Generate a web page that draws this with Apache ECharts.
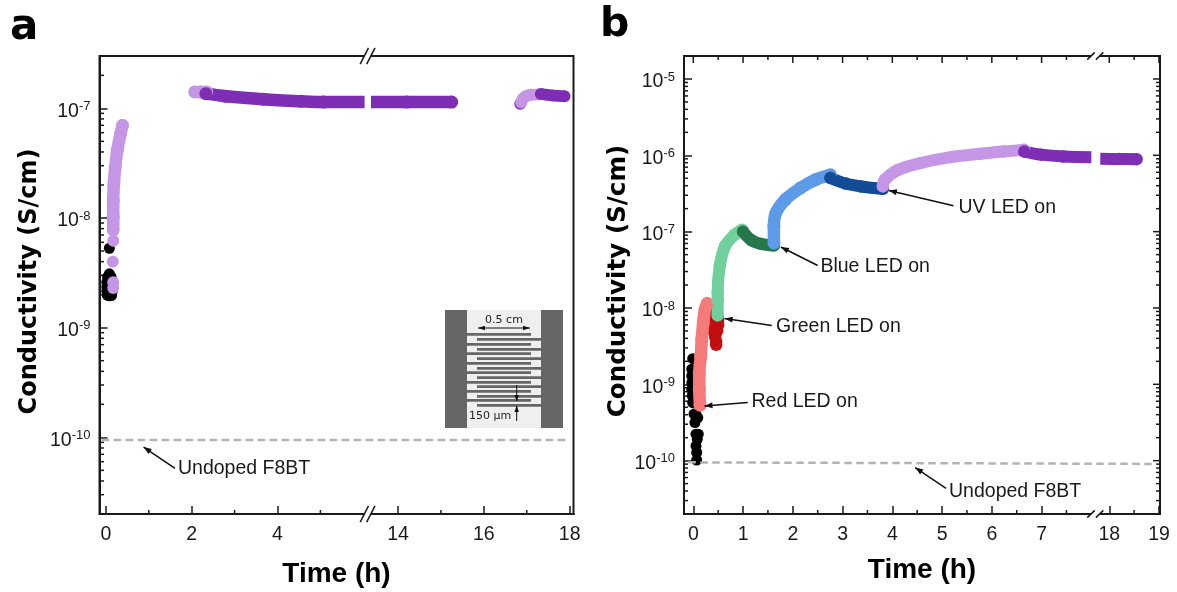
<!DOCTYPE html>
<html><head><meta charset="utf-8">
<style>html,body{margin:0;padding:0;background:#fff}#c{width:1177px;height:592px}</style>
<script src="https://cdn.jsdelivr.net/npm/echarts@6/dist/echarts.min.js"></script>
</head><body><div id="c"></div>
<script>
// ---- tick labels ----
const aXLabels = [0, 2, 4, 14, 16, 18];
const aXMinor = [1, 3, 5, 15, 17];
const bXLabels = [0, 1, 2, 3, 4, 5, 6, 7, 18, 19];
const bXMinor = [0.5, 1.5, 2.5, 3.5, 4.5, 5.5, 6.5, 7.5, 18.5];
const aDecades = [1e-10, 1e-9, 1e-8, 1e-7];
const bDecades = [1e-10, 1e-9, 1e-8, 1e-7, 1e-6, 1e-5];
const minorMult = [2, 3, 4, 5, 6, 7, 8, 9];

// ---- panel a data [time h, conductivity S/cm] ----
const aBlack = [[0.08,5.3e-9],[0.08,3.1e-9],[0.04,2.9e-9],[0.12,2.9e-9],[0.02,2.6e-9],[0.08,2.7e-9],[0.14,2.6e-9],
  [0.02,2.35e-9],[0.08,2.4e-9],[0.14,2.35e-9],[0.02,2.15e-9],[0.08,2.1e-9],[0.15,2.15e-9],[0.03,1.98e-9],[0.08,1.95e-9],[0.13,1.96e-9]];
const aRiseDots = [[0.17,2.3e-9],[0.17,2.6e-9],[0.16,4e-9],[0.17,6.2e-9]];
const aRise = [[0.17,7.8e-9],[0.17,1.03e-8],[0.17,1.45e-8],[0.186,2.05e-8],[0.217,2.91e-8],[0.264,4.13e-8],[0.341,5.87e-8],[0.388,7.0e-8]];
const aLight2 = [[2.07,1.41e-7],[2.2,1.41e-7],[2.35,1.41e-7]];
const aDecay = [[2.33,1.36e-7],[2.79,1.29e-7],[3.67,1.21e-7],[4.54,1.16e-7],[5.07,1.14e-7],[6.03,1.14e-7]];
const aDecayAfter = [[13.37,1.14e-7],[14.2,1.14e-7],[15.25,1.14e-7]];
const aDark3 = [[16.85,1.10e-7]];
const aLight3 = [[16.87,1.13e-7],[16.91,1.22e-7],[16.98,1.29e-7],[17.1,1.33e-7],[17.28,1.34e-7]];
const aDecay3 = [[17.33,1.35e-7],[17.6,1.31e-7],[17.88,1.29e-7]];
const aUndoped = [[-0.1,9.45e-11],[18.0,9.45e-11]];

// ---- panel b data ----
const bBlack = [[0.068,1.02e-10],[0.068,1.28e-10],[0.054,1.56e-10],[0.08,1.9e-10],[0.054,2.22e-10],[0.10,2.22e-10],
  [0.034,3.16e-10],[0.068,3.67e-10],[0.09,3.67e-10],[0.014,4.07e-10],[0.05,4.07e-10],[-0.012,5.75e-10],[-0.02,7.08e-10],
  [-0.032,8.61e-10],[-0.03,1.05e-9],[-0.032,1.29e-9],[-0.032,1.58e-9],[-0.012,2.17e-9]];
const bRed = [[0.135,5.32e-10],[0.12,8.61e-10],[0.12,1.41e-9],[0.15,2.34e-9],[0.17,3.89e-9],[0.20,6.46e-9],[0.235,9.55e-9],[0.28,1.15e-8]];
const bRedOff = [[0.36,9.55e-9],[0.38,7.94e-9],[0.39,6.76e-9],[0.40,5.62e-9],[0.42,4.79e-9],[0.44,4.17e-9],[0.46,3.63e-9],[0.46,3.3e-9],
  [0.48,7.94e-9],[0.5,7.08e-9],[0.5,6.03e-9],[0.48,5.01e-9]];
const bGreen = [[0.49,8e-9],[0.49,1.29e-8],[0.49,1.58e-8],[0.53,3.5e-8],[0.64,6.5e-8],[0.83,9.1e-8],[0.98,1.06e-7]];
const bGreenOff = [[1.0,1e-7],[1.17,7.71e-8],[1.36,6.9e-8],[1.62,6.56e-8]];
const bBlue = [[1.62,7.11e-8],[1.62,1.17e-7],[1.66,1.76e-7],[1.85,2.63e-7],[2.15,3.72e-7],[2.455,4.79e-7],[2.756,5.56e-7]];
const bBlueOff = [[2.756,5.04e-7],[3.06,4.27e-7],[3.37,3.91e-7],[3.81,3.63e-7]];
const bUv = [[3.81,3.91e-7],[3.85,4.79e-7],[4.12,6.46e-7],[4.57,7.94e-7],[5.175,9.46e-7],[5.78,1.05e-6],[6.23,1.12e-6],[6.65,1.18e-6]];
const bUvOff = [[6.65,1.12e-6],[6.99,1.02e-6],[7.44,9.64e-7],[8.0,9.46e-7]];
const bUvOffAfter = [[17.82,9.0e-7],[18.2,8.95e-7],[18.55,8.9e-7]];
const bUndoped = [[-0.1,9.5e-11],[18.95,9.05e-11]];

// ---- annotations: tip, tail, text anchor in data space ----
const aNotes = [{label:'Undoped F8BT',tip:[0.878,8.15e-11],tail:[1.61,5.2e-11],at:[1.68,5.18e-11]}];
const bNotes = [
  {label:'Red LED on',tip:[0.225,5.2e-10],tail:[1.095,5.77e-10],at:[1.17,5.87e-10]},
  {label:'Green LED on',tip:[0.63,7.3e-9],tail:[1.577,5.9e-9],at:[1.664,5.78e-9]},
  {label:'Blue LED on',tip:[1.76,6.3e-8],tail:[2.5,3.6e-8],at:[2.555,3.52e-8]},
  {label:'UV LED on',tip:[3.93,3.47e-7],tail:[5.23,2.19e-7],at:[5.33,2.04e-7]},
  {label:'Undoped F8BT',tip:[4.46,8.13e-11],tail:[5.08,4.34e-11],at:[5.14,3.9e-11]}
];

// ---- colours ----
const C = {black:'#000', lilac:'#c596e6', violet:'#7e2db5', salmon:'#f57a7a', red:'#c20f10',
  mint:'#70d09c', green:'#26774a', sky:'#5d9ae8', navy:'#134c96', gray:'#b3b3b3', ink:'#1a1a1a'};
const SANS = '"Liberation Sans", Arial, sans-serif';
const DEJA = '"DejaVu Sans", sans-serif';

function band(g, data, color, size, flatEnd) {
  return {type:'line', xAxisIndex:g, yAxisIndex:g, data, silent:true, animation:false, clip:false, smooth:0.35,
    showSymbol:true, showAllSymbol:true, symbol:'circle',
    symbolSize:(v,p)=> (flatEnd==='end' && p.dataIndex===data.length-1) || (flatEnd==='start' && p.dataIndex===0) ? 0 : size,
    lineStyle:{color, width:size-0.5}, itemStyle:{color}};
}
function dots(g, data, color, size) {
  return {type:'scatter', xAxisIndex:g, yAxisIndex:g, data, symbolSize:size, silent:true, clip:false,
    itemStyle:{color, opacity:1}};
}
function dashed(g, data) {
  return {type:'line', xAxisIndex:g, yAxisIndex:g, data, symbol:'none', silent:true, clip:false,
    lineStyle:{color:C.gray, width:2.5, type:[7.5,4.5]}};
}
function tickSeries(g, dim, values, side, len, ref) {
  const data = values.map(v => dim==='x' ? [v, ref] : [ref, v]);
  return {type:'custom', xAxisIndex:g, yAxisIndex:g, data, silent:true, clip:false, encode:{x:0,y:1},
    renderItem:(p, api)=>{
      const pt = api.coord([api.value(0), api.value(1)]), r = p.coordSys;
      let s;
      if (dim==='x') {
        const y0 = side==='top' ? r.y : r.y + r.height;
        s = {x1:pt[0], x2:pt[0], y1:y0, y2: side==='top' ? y0+len : y0-len};
      } else {
        const x0 = side==='right' ? r.x + r.width : r.x;
        s = {y1:pt[1], y2:pt[1], x1:x0, x2: side==='right' ? x0-len : x0+len};
      }
      return {type:'line', shape:s, style:{stroke:C.ink, lineWidth:1.5}};
    }};
}
function arrowHead(tip, tail, L, W) {
  const dx = tail[0]-tip[0], dy = tail[1]-tip[1], n = Math.hypot(dx,dy), ux = dx/n, uy = dy/n;
  return [tip, [tip[0]+ux*L-uy*W, tip[1]+uy*L+ux*W], [tip[0]+ux*L+uy*W, tip[1]+uy*L-ux*W]];
}
function noteSeries(g, notes) {
  return {type:'custom', xAxisIndex:g, yAxisIndex:g, data:notes.map(n=>n.tip), silent:true, clip:false, encode:{x:0,y:1}, z:8,
    renderItem:(p, api)=>{
      const n = notes[p.dataIndex], tip = api.coord(n.tip), tail = api.coord(n.tail), at = api.coord(n.at);
      return {type:'group', children:[
        {type:'line', shape:{x1:tip[0],y1:tip[1],x2:tail[0],y2:tail[1]}, style:{stroke:'#111',lineWidth:1.5}},
        {type:'polygon', shape:{points:arrowHead(tip,tail,8,3)}, style:{fill:'#111'}},
        {type:'text', x:at[0], y:at[1], style:{text:n.label, fill:C.ink, font:'19.5px '+SANS, textAlign:'left', textVerticalAlign:'middle'}}
      ]};
    }};
}
function breakSeries(g, t, ref, dx, dy, sep) {
  return {type:'custom', xAxisIndex:g, yAxisIndex:g, data:[[t,ref]], silent:true, clip:false, encode:{x:0,y:1}, z:9,
    renderItem:(p, api)=>{
      const c = api.coord([api.value(0), api.value(1)]), r = p.coordSys, kids = [];
      [r.y, r.y+r.height].forEach(y=>{
        kids.push({type:'line', shape:{x1:c[0]-sep/2,y1:y,x2:c[0]+sep/2,y2:y}, style:{stroke:'#fff',lineWidth:3}});
        [-sep/2, sep/2].forEach(o=>kids.push({type:'line',
          shape:{x1:c[0]+o-dx/2,y1:y+dy/2,x2:c[0]+o+dx/2,y2:y-dy/2}, style:{stroke:C.ink,lineWidth:1.5}}));
      });
      return {type:'group', children:kids};
    }};
}
function yMinors(decades){
  const out=[]; decades.concat([decades[0]/10]).forEach(d=>minorMult.forEach(m=>out.push(m*d))); return out;
}
function yFmt(v){
  const e=Math.log10(v), r=Math.round(e);
  return Math.abs(e-r)>1e-6 ? '' : '{b|10}{s|'+r+'}';
}
function xAxis(g, min, max, brk, labels, nameGap){
  return {type:'value', gridIndex:g, min, max, name:'Time (h)', nameLocation:'middle', nameGap,
    nameTextStyle:{fontFamily:SANS,fontWeight:'bold',fontSize:28,color:'#000'},
    breaks:[brk], breakArea:{show:false}, splitLine:{show:false}, minorTick:{show:false},
    axisLine:{show:true,onZero:false,lineStyle:{color:C.ink,width:2}},
    axisTick:{show:true,inside:true,length:8,customValues:labels,lineStyle:{color:C.ink,width:1.5}},
    axisLabel:{customValues:labels,fontFamily:SANS,fontSize:19.5,color:C.ink,margin:11,hideOverlap:false,
      showMinLabel:true,showMaxLabel:true,formatter:v=>String(Math.round(v))}};
}
function yAxis(g, min, max, nameGap, nameSize, shift){
  return {type:'log', logBase:10, gridIndex:g, min, max, name:'Conductivity (S/cm)', nameLocation:'middle', nameGap,
    nameRotate:90, nameTextStyle:{fontFamily:DEJA,fontWeight:'bold',fontSize:nameSize,color:'#000',padding:[0,0,0,shift]},
    splitLine:{show:false}, showMinLabel:false, showMaxLabel:false,
    axisLine:{show:true,onZero:false,lineStyle:{color:C.ink,width:2}},
    axisTick:{show:true,inside:true,length:8,lineStyle:{color:C.ink,width:1.5}},
    axisLabel:{formatter:yFmt,margin:9,padding:[6,0,0,0],rich:{
      b:{fontFamily:SANS,fontSize:19.5,color:C.ink},
      s:{fontFamily:SANS,fontSize:13,color:C.ink,padding:[0,0,10,0]}}}};
}

// ---- inset drawing (a schematic picture, not data) ----
const insetLeftFingerY = [334.3,344.3,353.7,363.3,372.7,382.3,391.3,400.3];
const insetRightFingerY = [339.3,349.3,358.7,368.3,377.7,386.7,396.3,405.3];
function insetElements(){
  const e=[]; const dark='#666';
  const rect=(x,y,w,h,fill)=>e.push({type:'rect',shape:{x,y,width:w,height:h},style:{fill},z:20,silent:true});
  rect(445,310,118,118,'#efefef');
  rect(445,310,22,118,dark); rect(541,310,22,118,dark);
  insetLeftFingerY.forEach(y=>rect(467,y-1.4,64,2.8,dark));
  insetRightFingerY.forEach(y=>rect(477,y-1.4,64,2.8,dark));
  const tri=(pts)=>e.push({type:'polygon',shape:{points:pts},style:{fill:'#111'},z:21,silent:true});
  const ln=(x1,y1,x2,y2)=>e.push({type:'line',shape:{x1,y1,x2,y2},style:{stroke:'#111',lineWidth:1},z:21,silent:true});
  ln(478,328,530,328); tri([[478,328],[485,325.8],[485,330.2]]); tri([[530,328],[523,325.8],[523,330.2]]);
  ln(516.7,385,516.7,401); tri([[516.7,401.5],[514.5,395],[518.9,395]]);
  ln(516.7,406,516.7,421); tri([[516.7,405.5],[514.5,412],[518.9,412]]);
  e.push({type:'text',x:504,y:320,style:{text:'0.5 cm',fill:'#222',font:'11px '+DEJA,textAlign:'center',textVerticalAlign:'middle'},z:21,silent:true});
  e.push({type:'text',x:490,y:416.5,style:{text:'150 \u03bcm',fill:'#222',font:'11px '+DEJA,textAlign:'center',textVerticalAlign:'middle'},z:21,silent:true});
  return e;
}

const refA=1e-9, refB=1e-9;
const option = {
  animation:false,
  grid:[
    {left:99.5, top:56, width:474, height:458, show:true, borderColor:C.ink, borderWidth:2, backgroundColor:'transparent', outerBoundsMode:'none'},
    {left:684, top:56, width:476, height:458, show:true, borderColor:C.ink, borderWidth:2, backgroundColor:'transparent', outerBoundsMode:'none'}
  ],
  xAxis:[
    xAxis(0,-0.15,18.09,{start:6.1,end:13.29,gap:0},aXLabels,46),
    xAxis(1,-0.187,19.02,{start:8.08,end:17.72,gap:0},bXLabels,42)
  ],
  yAxis:[ yAxis(0,2e-11,3e-7,58,24,7), yAxis(1,2e-11,2e-5,51,24.6,8) ],
  graphic:{elements:[
    {type:'text',x:10,y:7,style:{text:'a',fill:'#000',font:'bold 42px '+DEJA},silent:true},
    {type:'text',x:600,y:5,style:{text:'b',fill:'#000',font:'bold 41px '+DEJA},silent:true}
  ].concat(insetElements())},
  series:[
    tickSeries(0,'x',aXMinor,'bottom',4,refA),
    tickSeries(0,'y',yMinors(aDecades).filter(v=>v>2e-11&&v<3e-7),'left',4.5,0),
    dashed(0,aUndoped),
    dots(0,aBlack,C.black,11),
    dots(0,aRiseDots,C.lilac,12),
    band(0,aRise,C.lilac,13),
    band(0,aLight2,C.lilac,13),
    band(0,aDecay,C.violet,13,'end'),
    band(0,aDecayAfter,C.violet,13,'start'),
    dots(0,aDark3,C.violet,12),
    band(0,aLight3,C.lilac,12),
    band(0,aDecay3,C.violet,12),
    noteSeries(0,aNotes),
    breakSeries(0,6.1,refA,8.3,16.3,6.5),

    tickSeries(1,'x',bXMinor,'bottom',4,refB),
    tickSeries(1,'x',bXMinor,'top',4,refB),
    tickSeries(1,'x',bXLabels,'top',7,refB),
    tickSeries(1,'y',yMinors(bDecades).filter(v=>v>2e-11&&v<2e-5),'left',4,0),
    tickSeries(1,'y',yMinors(bDecades).filter(v=>v>2e-11&&v<2e-5),'right',4,0),
    tickSeries(1,'y',bDecades,'right',7,0),
    dashed(1,bUndoped),
    dots(1,bBlack,C.black,11),
    band(1,bRed,C.salmon,13),
    dots(1,bRedOff,C.red,12.5),
    band(1,bGreen,C.mint,12.5),
    band(1,bGreenOff,C.green,12.5),
    band(1,bBlue,C.sky,13),
    band(1,bBlueOff,C.navy,12.5),
    band(1,bUv,C.lilac,12.5),
    band(1,bUvOff,C.violet,12.5,'end'),
    band(1,bUvOffAfter,C.violet,12.5,'start'),
    noteSeries(1,bNotes),
    breakSeries(1,8.08,refB,7.5,7.3,8.6)
  ]
};
echarts.init(document.getElementById('c'),null,{renderer:'canvas'}).setOption(option);
</script></body></html>
